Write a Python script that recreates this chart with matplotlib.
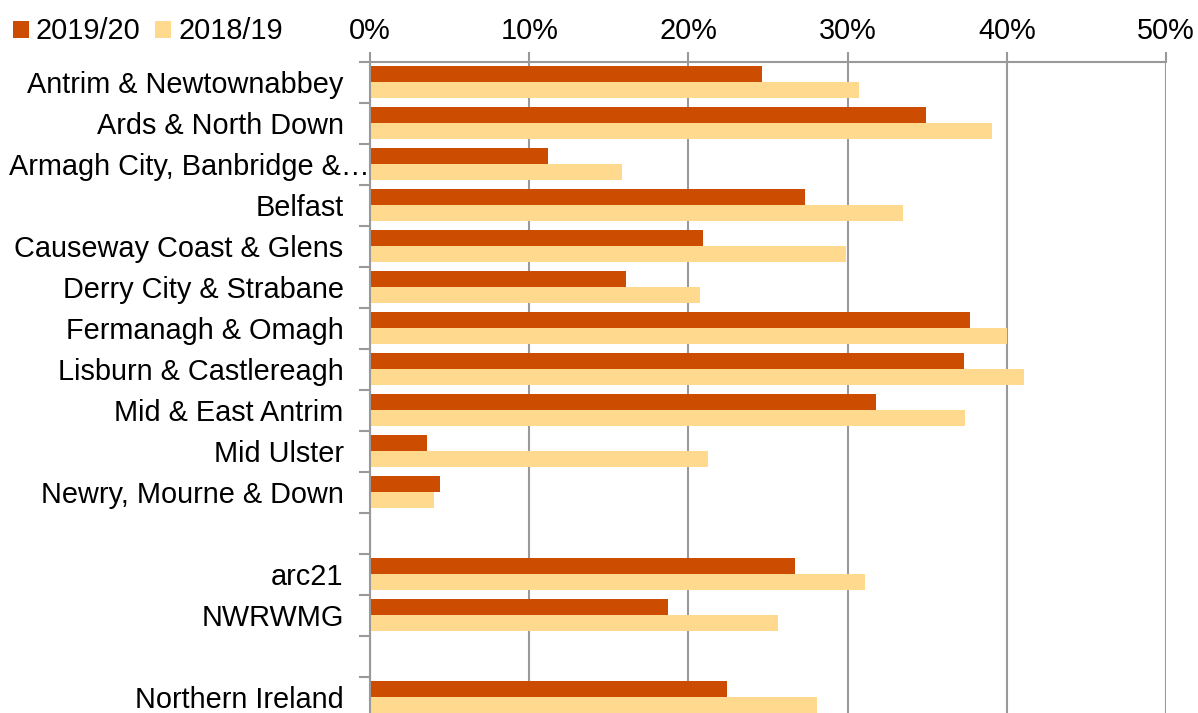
import matplotlib.pyplot as plt
import matplotlib.transforms as mtransforms
import numpy as np
from matplotlib.ticker import FixedLocator, PercentFormatter

plt.rcParams['font.family'] = ['Liberation Sans', 'DejaVu Sans']

# rows, blanks included to keep the gaps between groups
labels = ['Antrim & Newtownabbey', 'Ards & North Down', 'Armagh City, Banbridge &\u2026',
          'Belfast', 'Causeway Coast & Glens', 'Derry City & Strabane',
          'Fermanagh & Omagh', 'Lisburn & Castlereagh', 'Mid & East Antrim',
          'Mid Ulster', 'Newry, Mourne & Down', '', 'arc21', 'NWRWMG', '',
          'Northern Ireland']
y2019 = [24.6, 34.9, 11.2, 27.3, 20.9, 16.1, 37.7, 37.3, 31.8, 3.6, 4.4,
         np.nan, 26.7, 18.7, np.nan, 22.4]
y2018 = [30.7, 39.1, 15.8, 33.5, 29.9, 20.7, 40.0, 41.1, 37.4, 21.2, 4.0,
         np.nan, 31.1, 25.6, np.nan, 28.1]

dark = '#cc4c02'
light = '#fed98e'
grey = '#999999'
fs = 20.8

fig = plt.figure(figsize=(11.98, 7.13), dpi=100)
ax = fig.add_axes([370 / 1198, -4.5 / 713, 796 / 1198, 656 / 713])

pos = np.arange(len(labels))
h = 0.4
ax.barh(pos - h / 2, y2019, height=h, color=dark, label='2019/20')
ax.barh(pos + h / 2, y2018, height=h, color=light, label='2018/19')

ax.set_ylim(len(labels) - 0.5, -0.5)
ax.set_xlim(0, 50)
ax.set_yticks(pos)
ax.set_yticklabels(labels, fontsize=fs)
ax.yaxis.set_minor_locator(FixedLocator(np.arange(-0.5, len(labels), 1)))
ax.tick_params(axis='y', which='major', length=0, pad=19)
ax.tick_params(axis='y', which='minor', length=8, color=grey, width=1.5)

# the truncated label runs right up to the axis, as in the original
long_lab = ax.get_yticklabels()[2]
long_lab.set_transform(long_lab.get_transform() +
                       mtransforms.ScaledTranslation(26 / 100, 0, fig.dpi_scale_trans))

ax.xaxis.tick_top()
ax.set_xticks(np.arange(0, 51, 10))
ax.xaxis.set_major_formatter(PercentFormatter(decimals=0))
ax.tick_params(axis='x', labelsize=fs, length=7, color=grey, width=1.5, pad=5)
ax.grid(axis='x', color=grey, linewidth=1.5)
ax.set_axisbelow(True)

for s in ['right', 'bottom']:
    ax.spines[s].set_visible(False)
for s in ['left', 'top']:
    ax.spines[s].set_color(grey)
    ax.spines[s].set_linewidth(1.5)

fig.legend(loc='upper left', bbox_to_anchor=(-0.011, 1.012), ncol=2, frameon=False,
           fontsize=fs, handlelength=0.55, handleheight=0.55, handletextpad=0.25,
           columnspacing=0.5, borderaxespad=0.5)

fig.savefig('out.png', dpi=100)
